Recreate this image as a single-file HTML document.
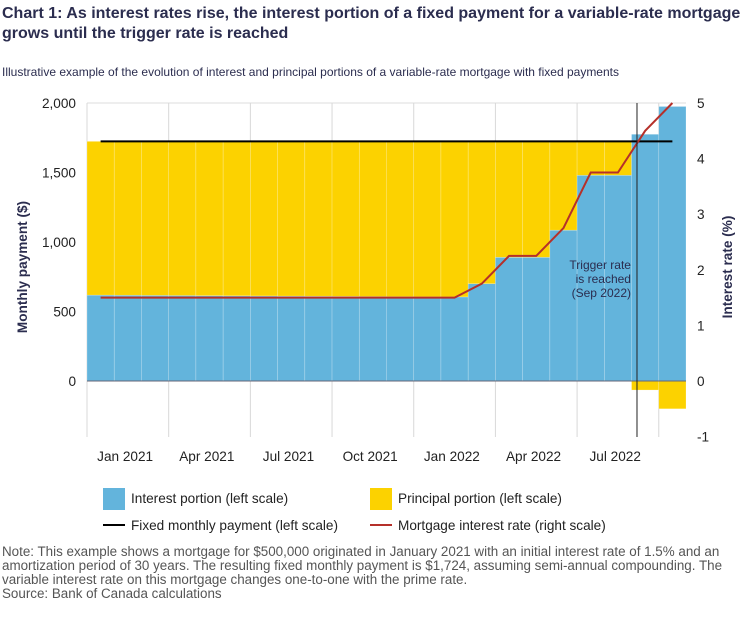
<!DOCTYPE html>
<html><head><meta charset="utf-8">
<style>
body{margin:0;background:#fff;font-family:"Liberation Sans",Arial,sans-serif;}
svg text{font-family:"Liberation Sans",Arial,sans-serif;}
</style></head>
<body>
<svg width="750" height="613" viewBox="0 0 750 613" xmlns="http://www.w3.org/2000/svg">
<text x="2" y="18" font-size="16" font-weight="bold" fill="#2b2d4f">Chart 1: As interest rates rise, the interest portion of a fixed payment for a variable-rate mortgage</text>
<text x="2" y="38" font-size="16" font-weight="bold" fill="#2b2d4f">grows until the trigger rate is reached</text>
<text x="2" y="76" font-size="12" fill="#2b2d4f">Illustrative example of the evolution of interest and principal portions of a variable-rate mortgage with fixed payments</text>
<g id="plot"></g>
<g>
<rect x="103" y="488" width="22" height="22" fill="#63b4dc"/>
<text x="131" y="503" font-size="13.6" fill="#222">Interest portion (left scale)</text>
<rect x="370" y="488" width="22" height="22" fill="#fcd200"/>
<text x="398" y="503" font-size="13.6" fill="#222">Principal portion (left scale)</text>
<line x1="103" y1="525" x2="125" y2="525" stroke="#000" stroke-width="2"/>
<text x="131" y="530" font-size="13.6" fill="#222">Fixed monthly payment (left scale)</text>
<line x1="370" y1="525" x2="392" y2="525" stroke="#b5302a" stroke-width="2"/>
<text x="398" y="530" font-size="13.6" fill="#222">Mortgage interest rate (right scale)</text>
</g>
<g font-size="13.4" fill="#555">
<text x="2" y="556">Note: This example shows a mortgage for $500,000 originated in January 2021 with an initial interest rate of 1.5% and an</text>
<text x="2" y="570">amortization period of 30 years. The resulting fixed monthly payment is $1,724, assuming semi-annual compounding. The</text>
<text x="2" y="584">variable interest rate on this mortgage changes one-to-one with the prime rate.</text>
<text x="2" y="598">Source: Bank of Canada calculations</text>
</g>
</svg>
<script>
const interest=[618,617,616,615,614,613,612,611,610,609,608,607,606,605,700,890,890,1085,1480,1480,1775,1975];
const principal=[1106,1107,1108,1109,1110,1111,1112,1113,1114,1115,1116,1117,1118,1119,1024,834,834,639,244,244,-65,-200];
const rates=[1.5,1.5,1.5,1.5,1.5,1.5,1.5,1.5,1.5,1.5,1.5,1.5,1.5,1.5,1.75,2.25,2.25,2.75,3.75,3.75,4.5,5.0];
const fixedPayment=[1724];
const leftTicks=[0,500,1000,1500,2000];
const leftTickLabels=["0","500","1,000","1,500","2,000"];
const rightTicks=[-1,0,1,2,3,4,5];
const xTickLabels=["Jan 2021","Apr 2021","Jul 2021","Oct 2021","Jan 2022","Apr 2022","Jul 2022"];
const triggerIndex=[20];

const NS="http://www.w3.org/2000/svg";
const g=document.getElementById('plot');
const X0=87,X1=686,Y0=381,TOP=103,BOT=437;
const bw=(X1-X0)/interest.length;
const yL=v=>Y0-v*(Y0-TOP)/2000;
const yR=v=>Y0-v*(Y0-TOP)/5;
const xB=i=>X0+i*bw;
function mk(t,a){const e=document.createElementNS(NS,t);for(const k in a)e.setAttribute(k,a[k]);g.appendChild(e);return e;}
let e=mk('line',{x1:X0,x2:X1,y1:TOP,y2:TOP,stroke:'#ddd'});


for(let k=0;k<=xTickLabels.length;k++){
  const x=xB(k*3);
  e=mk('line',{x1:x,x2:x,y1:TOP,y2:BOT,stroke:'#d8d8d8'});
  
  
}
interest.forEach((v,i)=>{
  e=mk('rect',{x:xB(i),y:yL(v),width:bw,height:yL(0)-yL(v),fill:'#63b4dc',stroke:'rgba(255,255,255,0.35)','stroke-width':0.6});
  
  
  const p=principal[i];
  const base=p>=0?v:0;
  const y1=yL(base+p),y2=yL(base);
  e=mk('rect',{x:xB(i),y:Math.min(y1,y2),width:bw,height:Math.abs(y2-y1),fill:'#fcd200',stroke:'rgba(255,255,255,0.35)','stroke-width':0.6});
  
  
});
e=mk('line',{x1:X0,x2:X1,y1:Y0,y2:Y0,stroke:'#667'});


e=mk('line',{x1:xB(0.5),x2:xB(interest.length-0.5),y1:yL(fixedPayment[0]),y2:yL(fixedPayment[0]),stroke:'#000','stroke-width':2});


e=mk('polyline',{points:rates.map((r,i)=>xB(i+0.5)+','+yR(r)).join(' '),fill:'none',stroke:'#b5302a','stroke-width':2});


const tx=xB(triggerIndex[0]+0.2);
e=mk('line',{x1:tx,x2:tx,y1:TOP,y2:BOT,stroke:'#222','stroke-width':1});


["Trigger rate","is reached","(Sep 2022)"].forEach((t,k)=>{
  e=mk('text',{x:tx-6,y:269+k*14,'text-anchor':'end','font-size':12,fill:'#2b2d4f'});e.textContent=t;
  
  
});
leftTicks.forEach((v,k)=>{
  e=mk('text',{x:76,y:yL(v)+5,'text-anchor':'end','font-size':13.6,fill:'#222'});e.textContent=leftTickLabels[k];
  
  
});
rightTicks.forEach(v=>{
  e=mk('text',{x:697,y:yR(v)+5,'font-size':13.6,fill:'#222'});e.textContent=String(v);
  
  
});
xTickLabels.forEach((t,k)=>{
  e=mk('text',{x:xB(k*3+1.4),y:461,'text-anchor':'middle','font-size':13.6,fill:'#222'});e.textContent=t;
  
  
});
e=mk('text',{x:0,y:0,transform:'translate(27,267) rotate(-90)','text-anchor':'middle','font-size':13.6,'font-weight':'bold',fill:'#2b2d4f'});e.textContent='Monthly payment ($)';


e=mk('text',{x:0,y:0,transform:'translate(732,267) rotate(-90)','text-anchor':'middle','font-size':13.6,'font-weight':'bold',fill:'#2b2d4f'});e.textContent='Interest rate (%)';


</script>
</body></html>
